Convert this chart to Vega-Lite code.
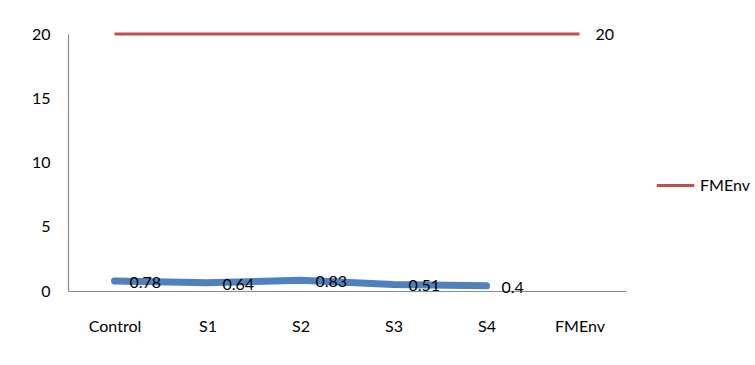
{
  "$schema": "https://vega.github.io/schema/vega-lite/v6.json",
  "autosize": "none",
  "width": 558,
  "height": 257,
  "padding": {"left": 68, "top": 34, "right": 129, "bottom": 74},
  "background": "white",
  "config": {
    "view": {"stroke": null},
    "font": "Lato",
    "axis": {"labelFont": "Lato", "labelFontSize": 16, "labelColor": "#000000", "grid": false, "ticks": false, "domainColor": "#8c8c8c", "domainWidth": 1.2}
  },
  "datasets": {
    "samples": [
      {"category": "Control", "value": 0.78},
      {"category": "S1", "value": 0.64},
      {"category": "S2", "value": 0.83},
      {"category": "S3", "value": 0.51},
      {"category": "S4", "value": 0.4}
    ],
    "fmenv": [
      {"category": "Control", "value": 20, "series": "FMEnv", "label": ""},
      {"category": "S1", "value": 20, "series": "FMEnv", "label": ""},
      {"category": "S2", "value": 20, "series": "FMEnv", "label": ""},
      {"category": "S3", "value": 20, "series": "FMEnv", "label": ""},
      {"category": "S4", "value": 20, "series": "FMEnv", "label": ""},
      {"category": "FMEnv", "value": 20, "series": "FMEnv", "label": "20"}
    ]
  },
  "encoding": {
    "x": {
      "field": "category", "type": "nominal", "sort": null,
      "scale": {"domain": ["Control", "S1", "S2", "S3", "S4", "FMEnv"], "type": "point", "padding": 0.5},
      "axis": {"title": null, "labelAngle": 0, "labelPadding": 27}
    },
    "y": {
      "field": "value", "type": "quantitative",
      "scale": {"domain": [0, 20], "nice": false, "zero": true},
      "axis": {"title": null, "values": [0, 5, 10, 15, 20], "labelPadding": 18}
    }
  },
  "layer": [
    {
      "data": {"name": "samples"},
      "mark": {"type": "line", "color": "#4F81BD", "strokeWidth": 7, "strokeCap": "round", "strokeJoin": "round"}
    },
    {
      "data": {"name": "samples"},
      "mark": {"type": "text", "align": "left", "baseline": "middle", "dx": 15, "dy": 2, "fontSize": 16, "color": "#000000"},
      "encoding": {"text": {"field": "value", "type": "quantitative"}}
    },
    {
      "data": {"name": "fmenv"},
      "mark": {"type": "line", "strokeWidth": 3},
      "encoding": {
        "color": {
          "field": "series", "type": "nominal",
          "scale": {"domain": ["FMEnv"], "range": ["#C0504D"]},
          "legend": {
            "title": null, "orient": "none", "legendX": 587, "legendY": 131,
            "symbolType": "stroke", "symbolSize": 1400, "symbolStrokeWidth": 3,
            "labelFontSize": 16, "labelFont": "Lato", "labelColor": "#000000", "labelOffset": 4
          }
        }
      }
    },
    {
      "data": {"name": "fmenv"},
      "mark": {"type": "text", "align": "left", "baseline": "middle", "dx": 16, "dy": 1, "fontSize": 16, "color": "#000000"},
      "encoding": {"text": {"field": "label", "type": "nominal"}}
    }
  ]
}
